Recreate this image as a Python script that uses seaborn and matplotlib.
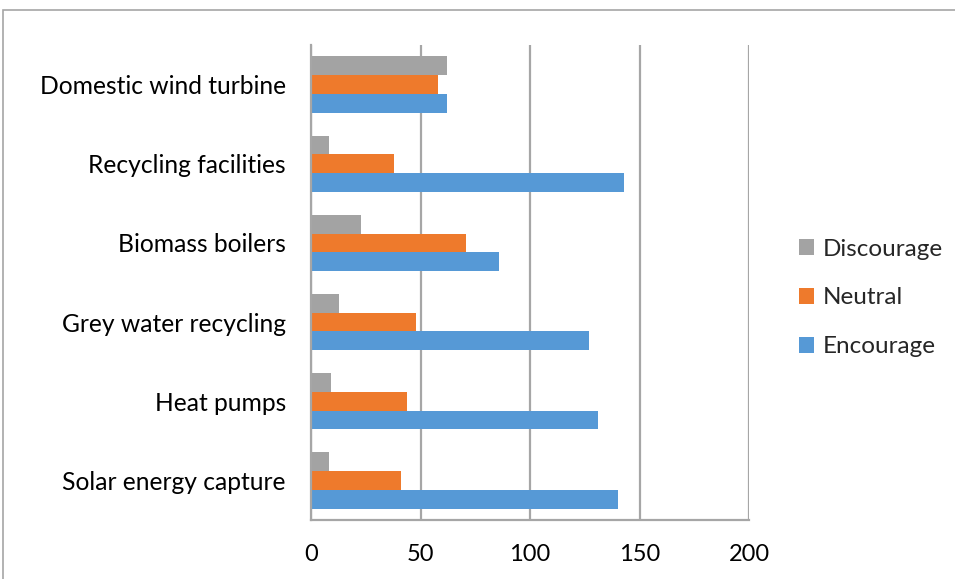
import matplotlib
matplotlib.use("Agg")
import matplotlib.pyplot as plt
import seaborn as sns
import pandas as pd
from matplotlib.patches import Rectangle
from matplotlib.ticker import FixedLocator

categories = ["Domestic wind turbine", "Recycling facilities", "Biomass boilers",
              "Grey water recycling", "Heat pumps", "Solar energy capture"]
discourage = [62, 8, 23, 13, 9, 8]
neutral = [58, 38, 71, 48, 44, 41]
encourage = [62, 143, 86, 127, 131, 140]
series_names = ["Discourage", "Neutral", "Encourage"]
x_ticks = [0, 50, 100, 150, 200]

rows = []
for name, vals in zip(series_names, [discourage, neutral, encourage]):
    for c, v in zip(categories, vals):
        rows.append({"category": c, "series": name, "value": v})
df = pd.DataFrame(rows)

sns.set_style("white")
plt.rcParams["font.family"] = ["Lato", "DejaVu Sans"]

fig = plt.figure(figsize=(9.55, 5.79), dpi=100)
ax = fig.add_axes([311/955, 1-520/579, (749-311)/955, (520-45)/579])

palette = {"Discourage": "#A3A3A3", "Neutral": "#EE7A2C", "Encourage": "#5699D6"}
sns.barplot(data=df, y="category", x="value", hue="series", order=categories,
            hue_order=series_names, palette=palette, orient="h", width=0.71,
            saturation=1, ax=ax, errorbar=None, edgecolor="none", linewidth=0)

ax.set_xlim(0, 200)
ax.set_xticks(x_ticks)
ax.set_xticklabels([str(t) for t in x_ticks])
ax.set_xlabel("")
ax.set_ylabel("")
ax.grid(axis="x", color="#A6A6A6", linewidth=1.6)
ax.set_axisbelow(True)
for s in ["top", "right"]:
    ax.spines[s].set_visible(False)
for s in ["left", "bottom"]:
    ax.spines[s].set_color("#A6A6A6")
    ax.spines[s].set_linewidth(1.6)

ax.set_yticks([i for i in range(len(categories))])
ax.set_yticklabels(categories)
ax.tick_params(axis="y", length=0, pad=18, labelsize=17.7, labelcolor="black")
ax.yaxis.set_minor_locator(FixedLocator([i - 0.5 for i in range(len(categories) + 1)]))
ax.tick_params(axis="y", which="minor", length=7, width=1.6, color="#A6A6A6", direction="out")
ax.tick_params(axis="x", length=6, width=1.6, color="#A6A6A6", direction="out",
               labelsize=17, pad=11, labelcolor="black")

handles, labels = ax.get_legend_handles_labels()
leg = ax.legend(handles, labels, loc="center left", bbox_to_anchor=(777/955, 1 - 298/579),
                bbox_transform=fig.transFigure, frameon=False, fontsize=17.5,
                handlelength=0.62, handleheight=0.62, handletextpad=0.35, labelspacing=1.15)

fig.patches.append(Rectangle((3/955, -0.05), 1.1, 1 - 10/579 + 0.05, transform=fig.transFigure,
                             fill=False, edgecolor="#A6A6A6", linewidth=1.2))

fig.savefig("out.png", dpi=100)
